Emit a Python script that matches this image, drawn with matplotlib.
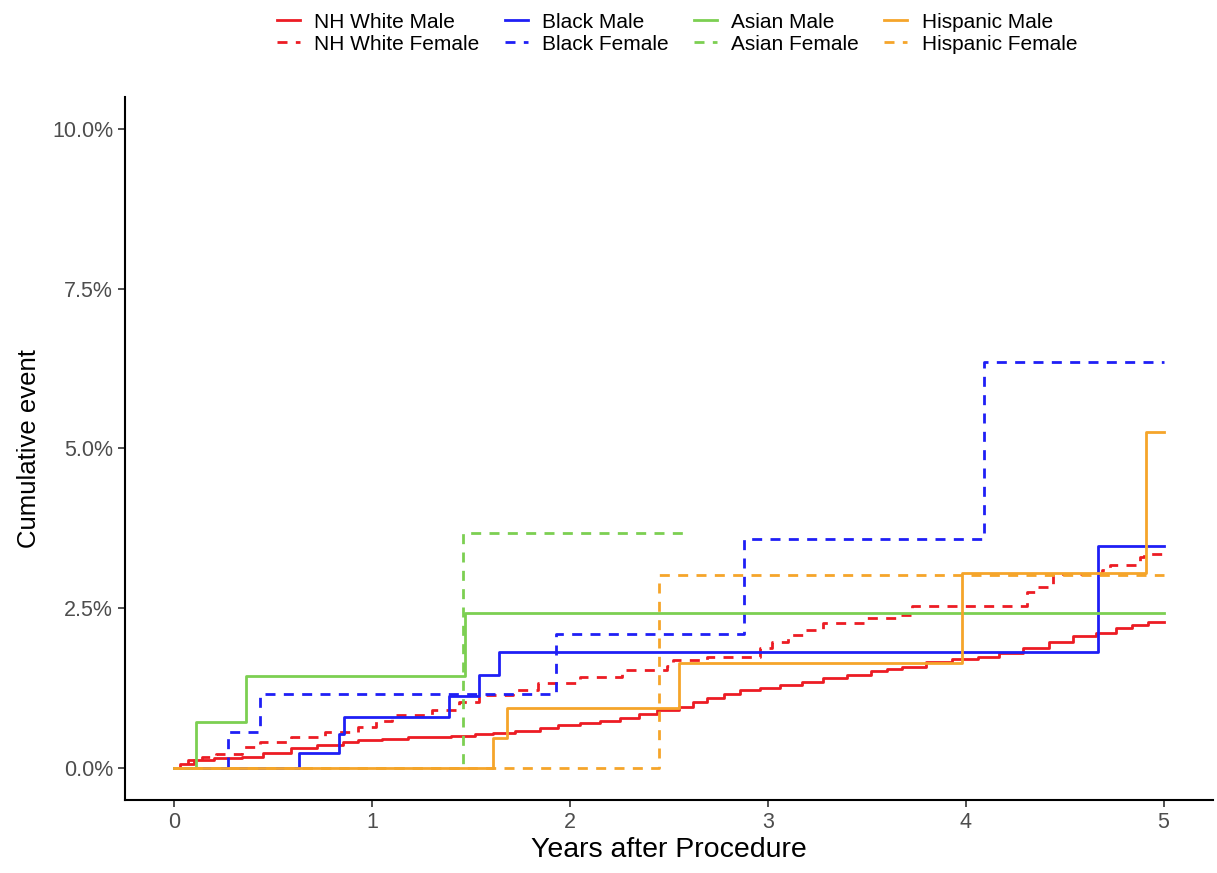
import numpy as np
import matplotlib.pyplot as plt
from matplotlib.ticker import FuncFormatter

plt.rcParams['font.family'] = ['Liberation Sans', 'DejaVu Sans']

# Cumulative event (%) step curves
nhw_m_t = [0, 0.03, 0.1, 0.2, 0.34, 0.45, 0.59, 0.72, 0.85, 0.93, 1.05, 1.18, 1.27, 1.4,
           1.52, 1.61, 1.72, 1.85, 1.94, 2.05, 2.15, 2.25, 2.35, 2.44, 2.55, 2.62, 2.69,
           2.78, 2.86, 2.96, 3.06, 3.17, 3.28, 3.4, 3.52, 3.6, 3.68, 3.8, 3.93, 4.06,
           4.17, 4.29, 4.42, 4.54, 4.66, 4.76, 4.84, 4.92, 5.0]
nhw_m_v = [0, 0.06, 0.13, 0.15, 0.17, 0.24, 0.31, 0.36, 0.4, 0.44, 0.46, 0.48, 0.49, 0.5,
           0.53, 0.55, 0.58, 0.63, 0.67, 0.7, 0.74, 0.78, 0.84, 0.91, 0.96, 1.03, 1.10,
           1.16, 1.22, 1.26, 1.30, 1.35, 1.41, 1.46, 1.52, 1.55, 1.58, 1.66, 1.70, 1.74,
           1.80, 1.88, 1.97, 2.06, 2.12, 2.19, 2.24, 2.29, 2.29]

nhw_f_t = [0, 0.07, 0.14, 0.21, 0.34, 0.43, 0.59, 0.76, 0.93, 1.02, 1.10, 1.30, 1.44, 1.54,
           1.71, 1.84, 2.05, 2.26, 2.49, 2.52, 2.69, 2.96, 3.02, 3.10, 3.19, 3.28, 3.50,
           3.67, 3.73, 4.31, 4.36, 4.44, 4.69, 4.73, 4.88, 4.90, 5.0]
nhw_f_v = [0, 0.12, 0.17, 0.22, 0.33, 0.41, 0.49, 0.56, 0.65, 0.74, 0.83, 0.91, 1.03, 1.14,
           1.22, 1.33, 1.43, 1.54, 1.59, 1.69, 1.74, 1.88, 1.98, 2.08, 2.16, 2.27, 2.35,
           2.40, 2.53, 2.76, 2.84, 3.03, 3.10, 3.18, 3.31, 3.35, 3.35]

blk_m_t = [0, 0.63, 0.83, 0.855, 1.39, 1.54, 1.64, 4.67, 5.0]
blk_m_v = [0, 0.24, 0.53, 0.80, 1.13, 1.46, 1.82, 3.48, 3.48]
blk_f_t = [0, 0.27, 0.43, 1.93, 2.88, 4.09, 5.0]
blk_f_v = [0, 0.56, 1.16, 2.10, 3.59, 6.35, 6.35]

asn_m_t = [0, 0.11, 0.36, 1.47, 5.0]
asn_m_v = [0, 0.72, 1.44, 2.43, 2.43]
asn_f_t = [0, 1.46, 2.58]
asn_f_v = [0, 3.68, 3.68]

his_m_t = [0, 1.61, 1.68, 2.55, 3.98, 4.91, 5.0]
his_m_v = [0, 0.47, 0.94, 1.65, 3.05, 5.26, 5.26]
his_f_t = [0, 2.45, 5.0]
his_f_v = [0, 3.02, 3.02]

red, blue, green, orange = '#EC1C24', '#1F1FF5', '#7CCF52', '#F5A52A'
dash = (0, (3.6, 3.0))

series = [
    ('NH White Male', nhw_m_t, nhw_m_v, red, '-'),
    ('NH White Female', nhw_f_t, nhw_f_v, red, dash),
    ('Black Male', blk_m_t, blk_m_v, blue, '-'),
    ('Black Female', blk_f_t, blk_f_v, blue, dash),
    ('Asian Male', asn_m_t, asn_m_v, green, '-'),
    ('Asian Female', asn_f_t, asn_f_v, green, dash),
    ('Hispanic Male', his_m_t, his_m_v, orange, '-'),
    ('Hispanic Female', his_f_t, his_f_v, orange, dash),
]

fig = plt.figure(figsize=(12.17, 8.73), dpi=100)
ax = fig.add_axes([125 / 1217, 1 - 800 / 873, (1213 - 125) / 1217, (800 - 97) / 873])

for name, t, v, c, ls in series:
    ax.step(t, v, where='post', color=c, linestyle=ls, linewidth=2.0, label=name)

ax.set_xlim(-0.25, 5.25)
ax.set_ylim(-0.5, 10.5)
ax.set_xticks([0, 1, 2, 3, 4, 5])
ax.set_yticks([0, 2.5, 5, 7.5, 10])
ax.yaxis.set_major_formatter(FuncFormatter(lambda y, _: f'{y:.1f}%'))
ax.tick_params(labelsize=15.5, labelcolor='#4D4D4D', color='#333333', length=5, width=1.2)

for s in ['top', 'right']:
    ax.spines[s].set_visible(False)
for s in ['left', 'bottom']:
    ax.spines[s].set_linewidth(1.5)

ax.set_xlabel('Years after Procedure', fontsize=20.5, labelpad=3)
ax.set_ylabel('Cumulative event', fontsize=18.5, labelpad=8)

fig.legend(loc='upper center', bbox_to_anchor=(677 / 1217, 1.007), ncol=4, frameon=False,
           fontsize=15, handlelength=1.1, handletextpad=0.7, columnspacing=1.2,
           labelspacing=0.15)

plt.savefig('out.png', dpi=100)
